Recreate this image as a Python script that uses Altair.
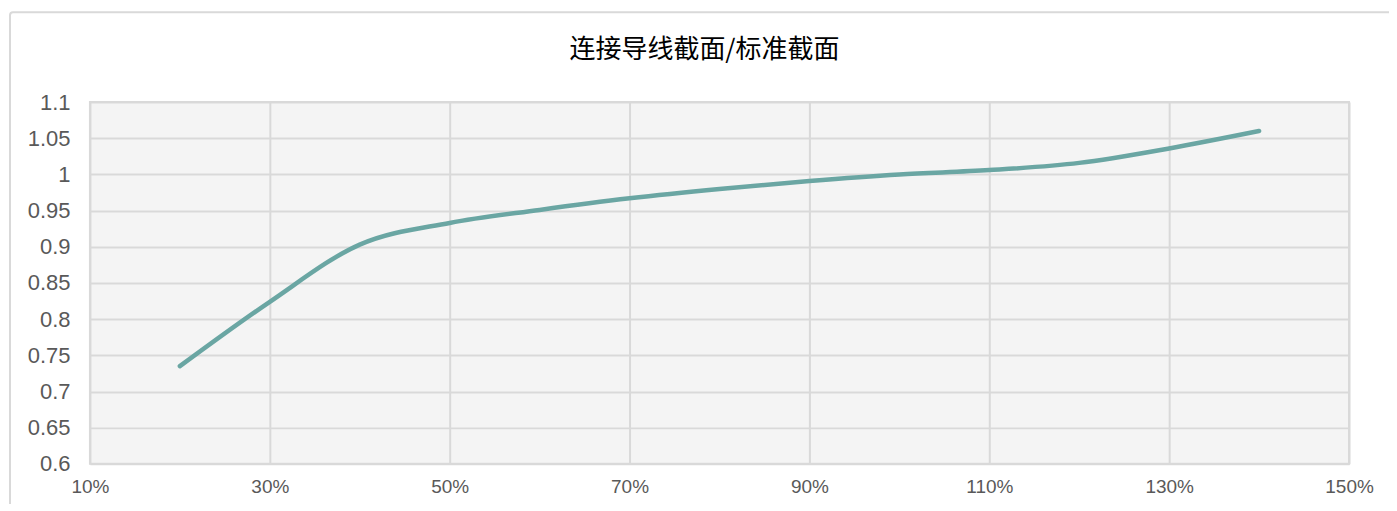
import altair as alt
import pandas as pd

title_text = "连接导线截面/标准截面"
x_pct = [20, 30, 40, 50, 60, 70, 80, 90, 100, 110, 120, 130, 140]
ratio = [0.735, 0.824, 0.903, 0.933, 0.951, 0.967, 0.980, 0.991, 1.000, 1.006, 1.016, 1.036, 1.060]
x_ticks = [10, 30, 50, 70, 90, 110, 130, 150]
y_ticks = [0.6, 0.65, 0.7, 0.75, 0.8, 0.85, 0.9, 0.95, 1.0, 1.05, 1.1]

df = pd.DataFrame({"x": [v / 100 for v in x_pct], "y": ratio})
tdf = pd.DataFrame({"t": [title_text]})

line = alt.Chart(df).mark_line(
    interpolate="monotone", color="#6aa6a3", strokeWidth=4.5, strokeCap="round"
).encode(
    x=alt.X("x:Q", scale=alt.Scale(domain=[0.1, 1.5], nice=False),
            axis=alt.Axis(values=[v / 100 for v in x_ticks], format=".0%", title=None,
                          labelFont="Liberation Sans", labelFontSize=19, labelPadding=14,
                          labelFlush=False, labelOverlap=False)),
    y=alt.Y("y:Q", scale=alt.Scale(domain=[0.6, 1.1], nice=False, zero=False),
            axis=alt.Axis(values=y_ticks, format="~g", title=None,
                          labelFont="Liberation Sans", labelFontSize=22, labelPadding=20,
                          labelFlush=False, labelOverlap=False)),
)

frame = alt.Chart(tdf).mark_rect(
    fillOpacity=0, stroke="#d9d9d9", strokeWidth=2, cornerRadius=3
).encode(
    x=alt.value(-80), x2=alt.value(1330), y=alt.value(-90), y2=alt.value(440)
)

title = alt.Chart(tdf).mark_text(
    font="Noto Sans CJK SC", fontSize=26, color="#000000", align="center", baseline="middle"
).encode(
    text="t:N", x=alt.value(615), y=alt.value(-52)
)

chart = alt.layer(frame, line, title).properties(
    width=1260, height=362,
    autosize=alt.AutoSizeParams(type="none"),
    padding={"left": 82, "top": 94, "right": 40, "bottom": 40},
).configure_view(
    fill="#f4f4f4", stroke="#d9d9d9", strokeWidth=2
).configure_axis(
    grid=True, gridColor="#d9d9d9", gridWidth=2, domain=False, ticks=False,
    labelColor="#595959",
)

chart.save("out.html", embed_options={"renderer": "svg", "actions": False})
